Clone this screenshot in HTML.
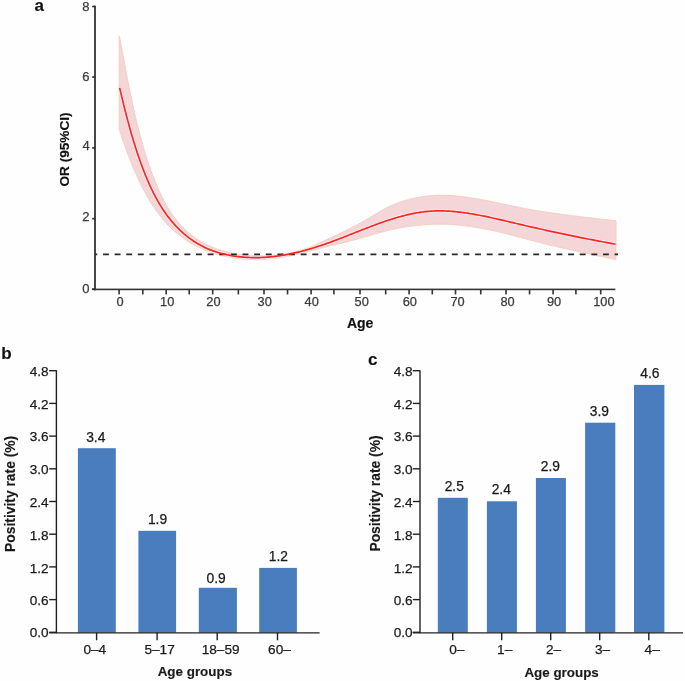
<!DOCTYPE html>
<html><head><meta charset="utf-8"><style>
html,body{margin:0;padding:0;background:#fefefe;width:685px;height:681px;overflow:hidden}
svg{display:block;will-change:transform}
</style></head><body>
<svg width="685" height="681" viewBox="0 0 685 681"><rect width="685" height="681" fill="#fefefe"/><polygon points="119.20,35.90 119.27,35.91 119.53,37.20 119.78,38.49 120.04,39.78 120.29,41.07 120.54,42.37 120.79,43.66 121.04,44.95 121.29,46.25 121.54,47.54 121.79,48.84 122.04,50.13 122.29,51.43 122.54,52.73 122.78,54.02 123.03,55.32 123.28,56.62 123.52,57.91 123.77,59.21 124.02,60.51 124.27,61.80 124.51,63.10 124.76,64.40 125.01,65.70 125.25,66.99 125.50,68.29 125.75,69.59 126.00,70.89 126.25,72.19 126.50,73.48 126.75,74.78 127.00,76.08 127.25,77.38 127.50,78.67 127.75,79.97 128.01,81.27 128.26,82.57 128.52,83.86 128.78,85.16 129.03,86.46 129.29,87.75 129.55,89.05 129.81,90.35 130.08,91.64 130.34,92.94 130.61,94.23 130.87,95.53 131.14,96.82 131.41,98.11 131.68,99.41 131.95,100.70 132.23,101.99 132.51,103.29 132.78,104.58 133.06,105.87 133.35,107.16 133.63,108.45 133.92,109.74 134.21,111.03 134.50,112.32 134.79,113.61 135.08,114.90 135.38,116.18 135.68,117.47 135.98,118.75 136.29,120.04 136.59,121.32 136.90,122.61 137.22,123.89 137.53,125.17 137.85,126.45 138.17,127.73 138.49,129.01 138.82,130.29 139.15,131.57 139.48,132.85 139.81,134.12 140.15,135.40 140.49,136.67 140.84,137.95 141.19,139.22 141.54,140.49 141.89,141.76 142.25,143.03 142.61,144.30 142.98,145.57 143.35,146.83 143.72,148.10 144.10,149.36 144.48,150.63 144.86,151.89 145.25,153.15 145.64,154.41 146.03,155.67 146.43,156.92 146.84,158.18 147.25,159.43 147.66,160.69 148.07,161.94 148.49,163.19 148.92,164.44 149.35,165.69 149.78,166.93 150.22,168.18 150.66,169.42 151.11,170.67 151.56,171.91 152.02,173.15 152.48,174.38 152.95,175.62 153.42,176.86 153.90,178.09 154.38,179.32 154.87,180.55 155.36,181.78 155.86,183.01 156.36,184.23 156.87,185.46 157.38,186.67 157.91,187.89 158.44,189.11 158.97,190.32 159.51,191.52 160.07,192.73 160.63,193.92 161.19,195.12 161.77,196.31 162.35,197.49 162.95,198.67 163.55,199.85 164.16,201.02 164.79,202.18 165.42,203.34 166.06,204.49 166.72,205.64 167.38,206.77 168.06,207.91 168.75,209.03 169.45,210.15 170.16,211.26 170.88,212.36 171.62,213.45 172.37,214.54 173.13,215.61 173.91,216.68 174.70,217.74 175.50,218.79 176.32,219.83 177.16,220.86 178.00,221.88 178.87,222.89 179.74,223.89 180.63,224.87 181.54,225.85 182.46,226.81 183.39,227.76 184.33,228.70 185.29,229.62 186.26,230.53 187.24,231.43 188.24,232.31 189.25,233.17 190.27,234.02 191.30,234.85 192.34,235.67 193.39,236.47 194.46,237.25 195.53,238.01 196.62,238.75 197.72,239.48 198.82,240.19 199.94,240.88 201.07,241.55 202.20,242.21 203.35,242.85 204.50,243.47 205.66,244.07 206.83,244.66 208.01,245.23 209.20,245.78 210.40,246.32 211.60,246.84 212.81,247.35 214.03,247.83 215.25,248.31 216.48,248.76 217.72,249.20 218.97,249.63 220.22,250.04 221.47,250.44 222.74,250.82 224.00,251.18 225.28,251.53 226.55,251.87 227.83,252.19 229.12,252.49 230.41,252.78 231.71,253.06 233.01,253.33 234.31,253.57 235.62,253.81 236.92,254.03 238.24,254.24 239.55,254.44 240.87,254.62 242.19,254.79 243.51,254.94 244.83,255.09 246.16,255.22 247.49,255.34 248.81,255.44 250.14,255.53 251.47,255.61 252.80,255.68 254.13,255.74 255.46,255.79 256.79,255.82 258.12,255.84 259.45,255.85 260.78,255.85 262.11,255.84 263.43,255.82 264.76,255.78 266.08,255.74 267.40,255.68 268.72,255.61 270.04,255.53 271.36,255.44 272.68,255.34 273.99,255.22 275.31,255.09 276.62,254.95 277.93,254.80 279.23,254.64 280.54,254.47 281.84,254.28 283.14,254.08 284.44,253.87 285.73,253.64 287.03,253.41 288.32,253.16 289.60,252.90 290.89,252.63 292.17,252.34 293.45,252.04 294.72,251.73 296.00,251.40 297.27,251.07 298.53,250.72 299.80,250.35 301.06,249.98 302.31,249.59 303.56,249.19 304.81,248.77 306.06,248.34 307.30,247.90 308.54,247.45 309.77,246.98 311.00,246.51 312.23,246.02 313.46,245.52 314.68,245.02 315.90,244.51 317.12,243.99 318.33,243.46 319.55,242.92 320.76,242.39 321.97,241.84 323.18,241.29 324.39,240.74 325.59,240.18 326.80,239.62 328.00,239.06 329.20,238.50 330.41,237.94 331.61,237.38 332.81,236.81 334.01,236.25 335.21,235.68 336.41,235.12 337.60,234.55 338.80,233.98 339.99,233.41 341.19,232.83 342.38,232.26 343.57,231.68 344.75,231.10 345.94,230.52 347.12,229.93 348.31,229.34 349.48,228.75 350.66,228.15 351.84,227.55 353.01,226.95 354.18,226.34 355.34,225.72 356.50,225.10 357.66,224.48 358.82,223.85 359.97,223.22 361.12,222.58 362.27,221.93 363.41,221.28 364.55,220.62 365.69,219.96 366.82,219.29 367.95,218.62 369.07,217.94 370.20,217.26 371.32,216.58 372.45,215.89 373.57,215.21 374.70,214.53 375.82,213.85 376.95,213.18 378.08,212.51 379.22,211.85 380.36,211.19 381.50,210.54 382.65,209.91 383.81,209.28 384.97,208.66 386.14,208.06 387.32,207.46 388.50,206.89 389.70,206.32 390.90,205.77 392.11,205.24 393.33,204.72 394.55,204.21 395.78,203.72 397.02,203.24 398.26,202.77 399.51,202.32 400.77,201.88 402.03,201.46 403.30,201.05 404.57,200.66 405.84,200.28 407.12,199.91 408.41,199.56 409.70,199.22 410.99,198.90 412.29,198.59 413.58,198.29 414.89,198.01 416.19,197.74 417.50,197.49 418.81,197.25 420.12,197.02 421.43,196.81 422.74,196.61 424.05,196.43 425.37,196.26 426.68,196.10 428.00,195.96 429.31,195.83 430.63,195.72 431.94,195.61 433.26,195.53 434.57,195.45 435.88,195.39 437.20,195.34 438.51,195.31 439.82,195.29 441.13,195.28 442.44,195.28 443.75,195.29 445.06,195.31 446.37,195.35 447.68,195.39 448.99,195.45 450.30,195.52 451.60,195.59 452.91,195.68 454.22,195.78 455.52,195.88 456.83,196.00 458.14,196.12 459.44,196.25 460.75,196.39 462.05,196.54 463.36,196.70 464.66,196.86 465.97,197.03 467.27,197.21 468.57,197.40 469.88,197.59 471.18,197.79 472.48,198.00 473.78,198.21 475.09,198.42 476.39,198.64 477.69,198.87 478.99,199.10 480.29,199.34 481.59,199.58 482.89,199.83 484.19,200.08 485.50,200.33 486.80,200.59 488.10,200.85 489.40,201.11 490.70,201.37 492.00,201.64 493.30,201.91 494.60,202.18 495.90,202.46 497.19,202.73 498.49,203.01 499.79,203.28 501.09,203.56 502.39,203.84 503.69,204.12 504.99,204.40 506.29,204.68 507.59,204.95 508.89,205.23 510.19,205.51 511.49,205.78 512.79,206.05 514.08,206.33 515.38,206.60 516.68,206.86 517.98,207.13 519.28,207.39 520.58,207.65 521.88,207.90 523.18,208.16 524.48,208.41 525.78,208.65 527.08,208.89 528.38,209.13 529.68,209.37 530.98,209.60 532.28,209.83 533.58,210.06 534.88,210.28 536.18,210.50 537.48,210.72 538.78,210.93 540.08,211.14 541.39,211.35 542.69,211.56 543.99,211.76 545.29,211.96 546.59,212.16 547.90,212.36 549.20,212.55 550.50,212.74 551.80,212.93 553.11,213.12 554.41,213.31 555.71,213.49 557.02,213.67 558.32,213.85 559.63,214.03 560.93,214.21 562.23,214.38 563.54,214.55 564.85,214.72 566.15,214.89 567.46,215.06 568.76,215.23 570.07,215.39 571.38,215.56 572.68,215.72 573.99,215.88 575.30,216.04 576.61,216.20 577.91,216.36 579.22,216.52 580.53,216.67 581.84,216.83 583.15,216.98 584.46,217.14 585.77,217.29 587.08,217.44 588.39,217.60 589.70,217.75 591.01,217.90 592.33,218.05 593.64,218.20 594.95,218.35 596.26,218.50 597.58,218.65 598.89,218.80 600.21,218.96 601.52,219.11 602.84,219.26 604.15,219.41 605.47,219.56 606.78,219.71 608.10,219.86 609.42,220.02 610.74,220.17 612.05,220.32 613.37,220.48 614.69,220.63 616.01,220.79 616.00,259.70 616.00,259.69 614.88,259.46 613.75,259.22 612.63,258.99 611.50,258.76 610.38,258.52 609.25,258.28 608.13,258.05 607.00,257.81 605.88,257.58 604.76,257.34 603.63,257.10 602.51,256.86 601.38,256.62 600.26,256.39 599.13,256.15 598.01,255.91 596.89,255.67 595.76,255.43 594.64,255.18 593.52,254.94 592.39,254.70 591.27,254.46 590.15,254.21 589.02,253.97 587.90,253.73 586.78,253.48 585.65,253.23 584.53,252.99 583.41,252.74 582.29,252.49 581.16,252.25 580.04,252.00 578.92,251.75 577.80,251.50 576.68,251.25 575.55,251.00 574.43,250.74 573.31,250.49 572.19,250.24 571.07,249.98 569.95,249.73 568.83,249.47 567.71,249.22 566.59,248.96 565.47,248.70 564.35,248.44 563.23,248.18 562.11,247.92 560.99,247.66 559.87,247.40 558.75,247.14 557.63,246.87 556.51,246.61 555.39,246.34 554.28,246.08 553.16,245.81 552.04,245.54 550.92,245.27 549.81,245.00 548.69,244.73 547.57,244.46 546.46,244.19 545.34,243.91 544.22,243.64 543.11,243.36 541.99,243.09 540.88,242.81 539.76,242.53 538.65,242.25 537.53,241.97 536.42,241.69 535.31,241.41 534.19,241.13 533.08,240.84 531.97,240.56 530.85,240.27 529.74,239.98 528.63,239.69 527.52,239.40 526.41,239.11 525.30,238.82 524.19,238.53 523.08,238.23 521.97,237.94 520.86,237.64 519.75,237.34 518.64,237.04 517.53,236.74 516.42,236.45 515.31,236.15 514.20,235.85 513.09,235.55 511.98,235.26 510.87,234.96 509.76,234.67 508.65,234.38 507.54,234.09 506.43,233.80 505.31,233.52 504.20,233.23 503.09,232.96 501.97,232.68 500.86,232.41 499.74,232.14 498.62,231.88 497.50,231.62 496.38,231.37 495.26,231.11 494.14,230.87 493.02,230.63 491.89,230.39 490.77,230.15 489.64,229.92 488.52,229.70 487.39,229.47 486.26,229.25 485.13,229.04 484.00,228.83 482.87,228.62 481.74,228.42 480.61,228.22 479.47,228.02 478.34,227.83 477.21,227.64 476.07,227.46 474.94,227.28 473.80,227.10 472.66,226.93 471.52,226.76 470.38,226.59 469.25,226.43 468.11,226.28 466.97,226.12 465.82,225.98 464.68,225.84 463.54,225.70 462.40,225.57 461.26,225.44 460.11,225.32 458.97,225.21 457.82,225.10 456.68,224.99 455.53,224.90 454.39,224.80 453.24,224.72 452.10,224.64 450.95,224.57 449.80,224.50 448.66,224.44 447.51,224.39 446.36,224.34 445.21,224.30 444.06,224.27 442.91,224.25 441.77,224.23 440.62,224.22 439.47,224.22 438.32,224.22 437.17,224.23 436.02,224.25 434.87,224.27 433.72,224.30 432.57,224.34 431.43,224.38 430.28,224.43 429.13,224.49 427.98,224.55 426.83,224.62 425.68,224.70 424.54,224.78 423.39,224.87 422.24,224.96 421.10,225.06 419.95,225.17 418.81,225.28 417.66,225.40 416.52,225.52 415.38,225.65 414.24,225.79 413.09,225.93 411.95,226.07 410.81,226.22 409.67,226.38 408.54,226.54 407.40,226.71 406.26,226.89 405.13,227.07 403.99,227.25 402.86,227.44 401.73,227.64 400.59,227.84 399.46,228.05 398.34,228.26 397.21,228.48 396.08,228.70 394.96,228.93 393.83,229.17 392.71,229.41 391.59,229.66 390.47,229.92 389.36,230.18 388.24,230.44 387.13,230.72 386.01,231.00 384.90,231.28 383.79,231.57 382.69,231.87 381.58,232.17 380.48,232.47 379.37,232.78 378.27,233.09 377.16,233.41 376.06,233.72 374.96,234.04 373.86,234.36 372.76,234.68 371.66,235.01 370.56,235.33 369.46,235.65 368.35,235.98 367.25,236.30 366.15,236.62 365.05,236.94 363.95,237.26 362.84,237.57 361.74,237.89 360.63,238.20 359.52,238.50 358.42,238.81 357.31,239.11 356.20,239.41 355.09,239.70 353.98,240.00 352.86,240.29 351.75,240.58 350.64,240.86 349.52,241.15 348.41,241.43 347.29,241.72 346.18,242.00 345.06,242.28 343.95,242.55 342.83,242.83 341.71,243.11 340.59,243.38 339.48,243.65 338.36,243.93 337.24,244.20 336.12,244.47 335.00,244.74 333.88,245.02 332.76,245.29 331.65,245.56 330.53,245.83 329.41,246.10 328.29,246.38 327.17,246.65 326.06,246.93 324.94,247.20 323.82,247.48 322.70,247.75 321.59,248.03 320.47,248.31 319.36,248.59 318.24,248.87 317.13,249.16 316.01,249.44 314.90,249.73 313.78,250.01 312.67,250.30 311.56,250.58 310.44,250.87 309.33,251.15 308.22,251.43 307.10,251.72 305.99,252.00 304.88,252.28 303.76,252.56 302.65,252.83 301.53,253.11 300.42,253.38 299.31,253.65 298.19,253.91 297.07,254.18 295.96,254.44 294.84,254.69 293.72,254.95 292.61,255.19 291.49,255.44 290.37,255.68 289.25,255.91 288.13,256.14 287.01,256.37 285.88,256.59 284.76,256.80 283.63,257.01 282.51,257.21 281.38,257.40 280.25,257.59 279.12,257.77 277.99,257.95 276.86,258.12 275.73,258.28 274.59,258.43 273.46,258.57 272.32,258.71 271.18,258.83 270.04,258.95 268.90,259.06 267.75,259.16 266.61,259.25 265.46,259.34 264.31,259.41 263.16,259.47 262.01,259.53 260.86,259.58 259.71,259.61 258.56,259.64 257.40,259.66 256.25,259.67 255.10,259.67 253.94,259.66 252.79,259.64 251.63,259.61 250.48,259.58 249.32,259.53 248.17,259.48 247.02,259.41 245.86,259.34 244.71,259.25 243.56,259.16 242.41,259.06 241.26,258.95 240.11,258.83 238.96,258.70 237.82,258.56 236.67,258.41 235.53,258.25 234.38,258.08 233.24,257.90 232.11,257.71 230.97,257.51 229.83,257.31 228.70,257.09 227.57,256.86 226.44,256.63 225.32,256.38 224.19,256.13 223.07,255.86 221.95,255.58 220.84,255.30 219.73,255.00 218.62,254.70 217.51,254.38 216.41,254.06 215.31,253.72 214.22,253.38 213.12,253.03 212.04,252.66 210.95,252.29 209.87,251.90 208.79,251.51 207.72,251.10 206.65,250.69 205.59,250.26 204.53,249.83 203.48,249.38 202.43,248.93 201.38,248.46 200.34,247.99 199.31,247.50 198.28,247.00 197.25,246.50 196.23,245.98 195.22,245.45 194.21,244.91 193.20,244.37 192.21,243.81 191.22,243.24 190.23,242.66 189.25,242.07 188.28,241.47 187.31,240.86 186.35,240.24 185.40,239.61 184.45,238.97 183.51,238.31 182.57,237.65 181.65,236.98 180.73,236.29 179.81,235.60 178.91,234.89 178.01,234.18 177.12,233.45 176.24,232.71 175.36,231.97 174.49,231.21 173.63,230.45 172.78,229.68 171.94,228.89 171.10,228.10 170.27,227.30 169.45,226.49 168.64,225.68 167.84,224.85 167.04,224.02 166.26,223.17 165.48,222.32 164.71,221.47 163.95,220.60 163.20,219.73 162.46,218.85 161.73,217.96 161.00,217.06 160.29,216.16 159.58,215.26 158.88,214.34 158.19,213.42 157.51,212.49 156.83,211.56 156.16,210.62 155.50,209.68 154.85,208.73 154.20,207.78 153.57,206.82 152.93,205.86 152.31,204.89 151.69,203.92 151.08,202.94 150.48,201.96 149.88,200.98 149.28,199.99 148.70,199.00 148.12,198.00 147.54,197.01 146.97,196.00 146.41,195.00 145.85,194.00 145.29,192.99 144.74,191.98 144.20,190.96 143.66,189.95 143.13,188.93 142.60,187.91 142.07,186.89 141.55,185.87 141.04,184.84 140.52,183.81 140.02,182.78 139.52,181.75 139.02,180.71 138.53,179.68 138.04,178.64 137.55,177.60 137.07,176.55 136.60,175.51 136.12,174.46 135.65,173.42 135.19,172.37 134.73,171.32 134.27,170.26 133.82,169.21 133.37,168.15 132.92,167.09 132.48,166.03 132.04,164.97 131.61,163.91 131.18,162.85 130.75,161.78 130.32,160.71 129.90,159.65 129.48,158.58 129.07,157.50 128.66,156.43 128.25,155.36 127.84,154.28 127.44,153.21 127.03,152.13 126.64,151.05 126.24,149.97 125.85,148.89 125.46,147.81 125.07,146.73 124.68,145.65 124.30,144.56 123.92,143.48 123.54,142.39 123.17,141.31 122.79,140.22 122.42,139.13 122.05,138.04 121.68,136.95 121.32,135.86 120.95,134.77 120.59,133.68 120.23,132.59 119.87,131.49 119.52,130.40 119.16,129.31 119.20,129.30" fill="#f4d5d8" stroke="#f2cdbb" stroke-width="0.9" stroke-linejoin="miter"/><polyline points="119.62,87.83 119.91,89.04 120.20,90.25 120.48,91.45 120.77,92.65 121.06,93.85 121.34,95.05 121.63,96.25 121.92,97.45 122.21,98.65 122.50,99.84 122.79,101.03 123.08,102.23 123.38,103.42 123.67,104.61 123.96,105.80 124.26,106.98 124.56,108.17 124.85,109.35 125.15,110.54 125.45,111.72 125.75,112.90 126.06,114.08 126.36,115.26 126.67,116.44 126.97,117.62 127.28,118.80 127.59,119.97 127.91,121.15 128.22,122.32 128.54,123.49 128.85,124.67 129.17,125.84 129.50,127.01 129.82,128.18 130.15,129.35 130.48,130.51 130.81,131.68 131.14,132.85 131.47,134.01 131.81,135.18 132.15,136.34 132.49,137.51 132.84,138.67 133.19,139.83 133.54,140.99 133.89,142.15 134.25,143.31 134.61,144.47 134.97,145.63 135.34,146.79 135.70,147.95 136.08,149.10 136.45,150.26 136.83,151.42 137.21,152.57 137.60,153.73 137.98,154.88 138.38,156.04 138.77,157.19 139.17,158.34 139.57,159.50 139.98,160.65 140.39,161.80 140.80,162.96 141.22,164.11 141.64,165.26 142.07,166.41 142.50,167.56 142.93,168.71 143.37,169.86 143.81,171.01 144.26,172.16 144.71,173.30 145.17,174.45 145.63,175.59 146.10,176.73 146.57,177.87 147.05,179.01 147.53,180.15 148.02,181.28 148.51,182.41 149.01,183.54 149.52,184.66 150.03,185.79 150.54,186.91 151.07,188.02 151.60,189.14 152.13,190.25 152.67,191.35 153.22,192.45 153.77,193.55 154.34,194.65 154.90,195.74 155.48,196.82 156.06,197.90 156.65,198.98 157.24,200.05 157.85,201.11 158.46,202.18 159.08,203.23 159.70,204.28 160.34,205.33 160.98,206.37 161.63,207.40 162.28,208.42 162.95,209.45 163.62,210.46 164.30,211.47 165.00,212.47 165.69,213.46 166.40,214.45 167.12,215.43 167.84,216.40 168.58,217.37 169.32,218.33 170.07,219.28 170.84,220.22 171.61,221.15 172.39,222.08 173.18,223.00 173.98,223.91 174.79,224.81 175.61,225.70 176.44,226.58 177.28,227.45 178.13,228.32 178.99,229.17 179.86,230.02 180.74,230.85 181.63,231.68 182.54,232.50 183.45,233.30 184.37,234.10 185.31,234.88 186.25,235.65 187.21,236.42 188.17,237.17 189.14,237.91 190.13,238.63 191.12,239.35 192.12,240.05 193.13,240.74 194.15,241.42 195.18,242.08 196.22,242.73 197.26,243.37 198.31,243.99 199.38,244.60 200.44,245.19 201.52,245.77 202.61,246.33 203.70,246.88 204.80,247.42 205.90,247.94 207.02,248.44 208.14,248.93 209.27,249.40 210.40,249.85 211.54,250.29 212.68,250.71 213.83,251.12 214.99,251.52 216.15,251.90 217.32,252.26 218.49,252.61 219.66,252.95 220.84,253.28 222.02,253.59 223.20,253.89 224.39,254.18 225.58,254.45 226.77,254.71 227.97,254.97 229.16,255.20 230.36,255.43 231.56,255.65 232.77,255.85 233.98,256.04 235.18,256.22 236.39,256.39 237.61,256.54 238.82,256.69 240.03,256.82 241.25,256.95 242.47,257.06 243.69,257.16 244.91,257.25 246.13,257.33 247.35,257.40 248.57,257.46 249.80,257.51 251.02,257.55 252.24,257.58 253.47,257.60 254.69,257.60 255.92,257.60 257.14,257.59 258.37,257.57 259.59,257.54 260.82,257.50 262.04,257.45 263.26,257.39 264.48,257.32 265.71,257.24 266.93,257.16 268.15,257.06 269.36,256.96 270.58,256.84 271.80,256.72 273.01,256.59 274.22,256.45 275.44,256.31 276.65,256.15 277.86,255.99 279.06,255.82 280.27,255.64 281.48,255.45 282.68,255.26 283.88,255.06 285.08,254.85 286.28,254.63 287.48,254.41 288.68,254.18 289.87,253.94 291.07,253.69 292.26,253.44 293.45,253.18 294.64,252.92 295.83,252.65 297.02,252.37 298.21,252.09 299.39,251.80 300.58,251.50 301.76,251.20 302.94,250.89 304.12,250.57 305.30,250.26 306.48,249.93 307.65,249.60 308.83,249.26 310.00,248.92 311.17,248.58 312.34,248.23 313.51,247.87 314.68,247.51 315.84,247.14 317.01,246.77 318.17,246.40 319.33,246.02 320.49,245.64 321.65,245.25 322.81,244.86 323.96,244.46 325.12,244.07 326.27,243.66 327.42,243.26 328.57,242.85 329.72,242.43 330.87,242.02 332.02,241.60 333.16,241.17 334.31,240.75 335.45,240.32 336.59,239.89 337.73,239.46 338.87,239.02 340.01,238.58 341.15,238.14 342.28,237.70 343.42,237.26 344.56,236.82 345.69,236.37 346.82,235.92 347.96,235.48 349.09,235.03 350.23,234.58 351.36,234.13 352.49,233.68 353.63,233.23 354.76,232.78 355.89,232.33 357.03,231.88 358.16,231.43 359.30,230.98 360.43,230.53 361.57,230.08 362.70,229.63 363.84,229.19 364.97,228.74 366.11,228.30 367.25,227.86 368.39,227.42 369.53,226.98 370.67,226.55 371.81,226.11 372.95,225.68 374.10,225.25 375.24,224.83 376.39,224.41 377.54,223.99 378.69,223.57 379.84,223.15 380.99,222.74 382.15,222.34 383.30,221.93 384.46,221.54 385.62,221.14 386.78,220.75 387.95,220.36 389.11,219.98 390.28,219.60 391.45,219.23 392.62,218.87 393.80,218.50 394.97,218.15 396.15,217.80 397.33,217.45 398.51,217.12 399.69,216.79 400.88,216.46 402.06,216.14 403.25,215.83 404.44,215.53 405.63,215.24 406.82,214.95 408.01,214.67 409.21,214.40 410.40,214.13 411.60,213.88 412.80,213.63 414.00,213.40 415.20,213.17 416.40,212.95 417.60,212.74 418.81,212.55 420.01,212.36 421.22,212.18 422.42,212.01 423.63,211.86 424.84,211.71 426.05,211.58 427.26,211.45 428.47,211.34 429.68,211.24 430.90,211.16 432.11,211.08 433.32,211.02 434.54,210.97 435.75,210.93 436.97,210.90 438.18,210.88 439.40,210.87 440.61,210.87 441.83,210.89 443.05,210.91 444.26,210.94 445.48,210.99 446.70,211.04 447.92,211.10 449.13,211.17 450.35,211.25 451.57,211.34 452.78,211.43 454.00,211.54 455.22,211.65 456.43,211.77 457.65,211.90 458.86,212.03 460.08,212.18 461.29,212.32 462.51,212.48 463.72,212.64 464.93,212.81 466.15,212.99 467.36,213.17 468.57,213.35 469.78,213.55 470.99,213.74 472.20,213.94 473.40,214.15 474.61,214.36 475.82,214.58 477.02,214.80 478.22,215.02 479.43,215.25 480.63,215.48 481.83,215.72 483.03,215.96 484.22,216.20 485.42,216.45 486.62,216.69 487.81,216.95 489.01,217.20 490.20,217.46 491.40,217.72 492.59,217.98 493.78,218.24 494.97,218.51 496.16,218.78 497.36,219.05 498.55,219.32 499.74,219.59 500.92,219.87 502.11,220.14 503.30,220.42 504.49,220.70 505.68,220.98 506.87,221.26 508.05,221.54 509.24,221.82 510.43,222.10 511.62,222.38 512.80,222.67 513.99,222.95 515.18,223.23 516.37,223.51 517.55,223.79 518.74,224.07 519.93,224.35 521.12,224.63 522.31,224.91 523.50,225.19 524.69,225.46 525.88,225.74 527.06,226.01 528.25,226.29 529.44,226.56 530.64,226.83 531.83,227.11 533.02,227.38 534.21,227.65 535.40,227.92 536.59,228.18 537.78,228.45 538.97,228.72 540.17,228.98 541.36,229.25 542.55,229.51 543.74,229.78 544.94,230.04 546.13,230.30 547.32,230.56 548.52,230.82 549.71,231.08 550.90,231.34 552.10,231.60 553.29,231.86 554.49,232.12 555.68,232.37 556.88,232.63 558.07,232.88 559.27,233.13 560.46,233.39 561.66,233.64 562.85,233.89 564.05,234.14 565.25,234.39 566.44,234.64 567.64,234.89 568.84,235.14 570.03,235.38 571.23,235.63 572.43,235.87 573.62,236.12 574.82,236.36 576.02,236.60 577.22,236.85 578.41,237.09 579.61,237.33 580.81,237.57 582.01,237.81 583.20,238.05 584.40,238.29 585.60,238.52 586.80,238.76 588.00,238.99 589.20,239.23 590.40,239.46 591.60,239.70 592.79,239.93 593.99,240.16 595.19,240.39 596.39,240.62 597.59,240.85 598.79,241.08 599.99,241.31 601.19,241.54 602.39,241.77 603.59,241.99 604.79,242.22 605.99,242.45 607.19,242.67 608.39,242.89 609.59,243.12 610.79,243.34 611.99,243.56 613.19,243.78 614.39,244.00 615.59,244.22" fill="none" stroke="#fff" stroke-opacity="0.55" stroke-width="3.6" stroke-linejoin="round"/><line x1="95" y1="254.35" x2="618" y2="254.35" stroke="#282828" stroke-width="1.8" stroke-dasharray="5.9 5.728" stroke-dashoffset="3.63"/><polyline points="119.62,87.83 119.91,89.04 120.20,90.25 120.48,91.45 120.77,92.65 121.06,93.85 121.34,95.05 121.63,96.25 121.92,97.45 122.21,98.65 122.50,99.84 122.79,101.03 123.08,102.23 123.38,103.42 123.67,104.61 123.96,105.80 124.26,106.98 124.56,108.17 124.85,109.35 125.15,110.54 125.45,111.72 125.75,112.90 126.06,114.08 126.36,115.26 126.67,116.44 126.97,117.62 127.28,118.80 127.59,119.97 127.91,121.15 128.22,122.32 128.54,123.49 128.85,124.67 129.17,125.84 129.50,127.01 129.82,128.18 130.15,129.35 130.48,130.51 130.81,131.68 131.14,132.85 131.47,134.01 131.81,135.18 132.15,136.34 132.49,137.51 132.84,138.67 133.19,139.83 133.54,140.99 133.89,142.15 134.25,143.31 134.61,144.47 134.97,145.63 135.34,146.79 135.70,147.95 136.08,149.10 136.45,150.26 136.83,151.42 137.21,152.57 137.60,153.73 137.98,154.88 138.38,156.04 138.77,157.19 139.17,158.34 139.57,159.50 139.98,160.65 140.39,161.80 140.80,162.96 141.22,164.11 141.64,165.26 142.07,166.41 142.50,167.56 142.93,168.71 143.37,169.86 143.81,171.01 144.26,172.16 144.71,173.30 145.17,174.45 145.63,175.59 146.10,176.73 146.57,177.87 147.05,179.01 147.53,180.15 148.02,181.28 148.51,182.41 149.01,183.54 149.52,184.66 150.03,185.79 150.54,186.91 151.07,188.02 151.60,189.14 152.13,190.25 152.67,191.35 153.22,192.45 153.77,193.55 154.34,194.65 154.90,195.74 155.48,196.82 156.06,197.90 156.65,198.98 157.24,200.05 157.85,201.11 158.46,202.18 159.08,203.23 159.70,204.28 160.34,205.33 160.98,206.37 161.63,207.40 162.28,208.42 162.95,209.45 163.62,210.46 164.30,211.47 165.00,212.47 165.69,213.46 166.40,214.45 167.12,215.43 167.84,216.40 168.58,217.37 169.32,218.33 170.07,219.28 170.84,220.22 171.61,221.15 172.39,222.08 173.18,223.00 173.98,223.91 174.79,224.81 175.61,225.70 176.44,226.58 177.28,227.45 178.13,228.32 178.99,229.17 179.86,230.02 180.74,230.85 181.63,231.68 182.54,232.50 183.45,233.30 184.37,234.10 185.31,234.88 186.25,235.65 187.21,236.42 188.17,237.17 189.14,237.91 190.13,238.63 191.12,239.35 192.12,240.05 193.13,240.74 194.15,241.42 195.18,242.08 196.22,242.73 197.26,243.37 198.31,243.99 199.38,244.60 200.44,245.19 201.52,245.77 202.61,246.33 203.70,246.88 204.80,247.42 205.90,247.94 207.02,248.44 208.14,248.93 209.27,249.40 210.40,249.85 211.54,250.29 212.68,250.71 213.83,251.12 214.99,251.52 216.15,251.90 217.32,252.26 218.49,252.61 219.66,252.95 220.84,253.28 222.02,253.59 223.20,253.89 224.39,254.18 225.58,254.45 226.77,254.71 227.97,254.97 229.16,255.20 230.36,255.43 231.56,255.65 232.77,255.85 233.98,256.04 235.18,256.22 236.39,256.39 237.61,256.54 238.82,256.69 240.03,256.82 241.25,256.95 242.47,257.06 243.69,257.16 244.91,257.25 246.13,257.33 247.35,257.40 248.57,257.46 249.80,257.51 251.02,257.55 252.24,257.58 253.47,257.60 254.69,257.60 255.92,257.60 257.14,257.59 258.37,257.57 259.59,257.54 260.82,257.50 262.04,257.45 263.26,257.39 264.48,257.32 265.71,257.24 266.93,257.16 268.15,257.06 269.36,256.96 270.58,256.84 271.80,256.72 273.01,256.59 274.22,256.45 275.44,256.31 276.65,256.15 277.86,255.99 279.06,255.82 280.27,255.64 281.48,255.45 282.68,255.26 283.88,255.06 285.08,254.85 286.28,254.63 287.48,254.41 288.68,254.18 289.87,253.94 291.07,253.69 292.26,253.44 293.45,253.18 294.64,252.92 295.83,252.65 297.02,252.37 298.21,252.09 299.39,251.80 300.58,251.50 301.76,251.20 302.94,250.89 304.12,250.57 305.30,250.26 306.48,249.93 307.65,249.60 308.83,249.26 310.00,248.92 311.17,248.58 312.34,248.23 313.51,247.87 314.68,247.51 315.84,247.14 317.01,246.77 318.17,246.40 319.33,246.02 320.49,245.64 321.65,245.25 322.81,244.86 323.96,244.46 325.12,244.07 326.27,243.66 327.42,243.26 328.57,242.85 329.72,242.43 330.87,242.02 332.02,241.60 333.16,241.17 334.31,240.75 335.45,240.32 336.59,239.89 337.73,239.46 338.87,239.02 340.01,238.58 341.15,238.14 342.28,237.70 343.42,237.26 344.56,236.82 345.69,236.37 346.82,235.92 347.96,235.48 349.09,235.03 350.23,234.58 351.36,234.13 352.49,233.68 353.63,233.23 354.76,232.78 355.89,232.33 357.03,231.88 358.16,231.43 359.30,230.98 360.43,230.53 361.57,230.08 362.70,229.63 363.84,229.19 364.97,228.74 366.11,228.30 367.25,227.86 368.39,227.42 369.53,226.98 370.67,226.55 371.81,226.11 372.95,225.68 374.10,225.25 375.24,224.83 376.39,224.41 377.54,223.99 378.69,223.57 379.84,223.15 380.99,222.74 382.15,222.34 383.30,221.93 384.46,221.54 385.62,221.14 386.78,220.75 387.95,220.36 389.11,219.98 390.28,219.60 391.45,219.23 392.62,218.87 393.80,218.50 394.97,218.15 396.15,217.80 397.33,217.45 398.51,217.12 399.69,216.79 400.88,216.46 402.06,216.14 403.25,215.83 404.44,215.53 405.63,215.24 406.82,214.95 408.01,214.67 409.21,214.40 410.40,214.13 411.60,213.88 412.80,213.63 414.00,213.40 415.20,213.17 416.40,212.95 417.60,212.74 418.81,212.55 420.01,212.36 421.22,212.18 422.42,212.01 423.63,211.86 424.84,211.71 426.05,211.58 427.26,211.45 428.47,211.34 429.68,211.24 430.90,211.16 432.11,211.08 433.32,211.02 434.54,210.97 435.75,210.93 436.97,210.90 438.18,210.88 439.40,210.87 440.61,210.87 441.83,210.89 443.05,210.91 444.26,210.94 445.48,210.99 446.70,211.04 447.92,211.10 449.13,211.17 450.35,211.25 451.57,211.34 452.78,211.43 454.00,211.54 455.22,211.65 456.43,211.77 457.65,211.90 458.86,212.03 460.08,212.18 461.29,212.32 462.51,212.48 463.72,212.64 464.93,212.81 466.15,212.99 467.36,213.17 468.57,213.35 469.78,213.55 470.99,213.74 472.20,213.94 473.40,214.15 474.61,214.36 475.82,214.58 477.02,214.80 478.22,215.02 479.43,215.25 480.63,215.48 481.83,215.72 483.03,215.96 484.22,216.20 485.42,216.45 486.62,216.69 487.81,216.95 489.01,217.20 490.20,217.46 491.40,217.72 492.59,217.98 493.78,218.24 494.97,218.51 496.16,218.78 497.36,219.05 498.55,219.32 499.74,219.59 500.92,219.87 502.11,220.14 503.30,220.42 504.49,220.70 505.68,220.98 506.87,221.26 508.05,221.54 509.24,221.82 510.43,222.10 511.62,222.38 512.80,222.67 513.99,222.95 515.18,223.23 516.37,223.51 517.55,223.79 518.74,224.07 519.93,224.35 521.12,224.63 522.31,224.91 523.50,225.19 524.69,225.46 525.88,225.74 527.06,226.01 528.25,226.29 529.44,226.56 530.64,226.83 531.83,227.11 533.02,227.38 534.21,227.65 535.40,227.92 536.59,228.18 537.78,228.45 538.97,228.72 540.17,228.98 541.36,229.25 542.55,229.51 543.74,229.78 544.94,230.04 546.13,230.30 547.32,230.56 548.52,230.82 549.71,231.08 550.90,231.34 552.10,231.60 553.29,231.86 554.49,232.12 555.68,232.37 556.88,232.63 558.07,232.88 559.27,233.13 560.46,233.39 561.66,233.64 562.85,233.89 564.05,234.14 565.25,234.39 566.44,234.64 567.64,234.89 568.84,235.14 570.03,235.38 571.23,235.63 572.43,235.87 573.62,236.12 574.82,236.36 576.02,236.60 577.22,236.85 578.41,237.09 579.61,237.33 580.81,237.57 582.01,237.81 583.20,238.05 584.40,238.29 585.60,238.52 586.80,238.76 588.00,238.99 589.20,239.23 590.40,239.46 591.60,239.70 592.79,239.93 593.99,240.16 595.19,240.39 596.39,240.62 597.59,240.85 598.79,241.08 599.99,241.31 601.19,241.54 602.39,241.77 603.59,241.99 604.79,242.22 605.99,242.45 607.19,242.67 608.39,242.89 609.59,243.12 610.79,243.34 611.99,243.56 613.19,243.78 614.39,244.00 615.59,244.22" fill="none" stroke="#fa2824" stroke-width="1.7" stroke-linejoin="round"/><rect x="94.1" y="5.7" width="1.8" height="284.6" fill="#333"/><rect x="92" y="288.6" width="523.4" height="1.6" fill="#333"/><rect x="92.2" y="5.65" width="3" height="1.7" fill="#333"/><rect x="92.2" y="76.15" width="3" height="1.7" fill="#333"/><rect x="92.2" y="147.05" width="3" height="1.7" fill="#333"/><rect x="92.2" y="217.85" width="3" height="1.7" fill="#333"/><rect x="92.2" y="288.25" width="3" height="1.7" fill="#333"/><rect x="118.30" y="289" width="1.6" height="5.4" fill="#333"/><rect x="142.00" y="289" width="1.6" height="5.4" fill="#333"/><rect x="165.40" y="289" width="1.6" height="5.4" fill="#333"/><rect x="188.40" y="289" width="1.6" height="5.4" fill="#333"/><rect x="211.90" y="289" width="1.6" height="5.4" fill="#333"/><rect x="237.55" y="289" width="1.6" height="5.4" fill="#333"/><rect x="263.20" y="289" width="1.6" height="5.4" fill="#333"/><rect x="286.75" y="289" width="1.6" height="5.4" fill="#333"/><rect x="310.30" y="289" width="1.6" height="5.4" fill="#333"/><rect x="333.10" y="289" width="1.6" height="5.4" fill="#333"/><rect x="359.20" y="289" width="1.6" height="5.4" fill="#333"/><rect x="384.90" y="289" width="1.6" height="5.4" fill="#333"/><rect x="408.30" y="289" width="1.6" height="5.4" fill="#333"/><rect x="431.50" y="289" width="1.6" height="5.4" fill="#333"/><rect x="454.70" y="289" width="1.6" height="5.4" fill="#333"/><rect x="479.95" y="289" width="1.6" height="5.4" fill="#333"/><rect x="505.20" y="289" width="1.6" height="5.4" fill="#333"/><rect x="528.75" y="289" width="1.6" height="5.4" fill="#333"/><rect x="552.30" y="289" width="1.6" height="5.4" fill="#333"/><rect x="575.10" y="289" width="1.6" height="5.4" fill="#333"/><rect x="599.90" y="289" width="1.6" height="5.4" fill="#333"/><rect x="77.90" y="448.20" width="37.90" height="184.40" fill="#4a7dbd"/><rect x="138.40" y="530.80" width="37.70" height="101.80" fill="#4a7dbd"/><rect x="198.80" y="587.80" width="38.10" height="44.80" fill="#4a7dbd"/><rect x="259.20" y="567.90" width="37.70" height="64.70" fill="#4a7dbd"/><line x1="56.4" y1="370.3" x2="56.4" y2="633.3" stroke="#222" stroke-width="1.4"/><line x1="49.199999999999996" y1="632.85" x2="319.6" y2="632.85" stroke="#222" stroke-width="1.4"/><line x1="49.199999999999996" y1="632.30" x2="56.4" y2="632.30" stroke="#222" stroke-width="1.4"/><line x1="49.199999999999996" y1="599.60" x2="56.4" y2="599.60" stroke="#222" stroke-width="1.4"/><line x1="49.199999999999996" y1="566.90" x2="56.4" y2="566.90" stroke="#222" stroke-width="1.4"/><line x1="49.199999999999996" y1="534.20" x2="56.4" y2="534.20" stroke="#222" stroke-width="1.4"/><line x1="49.199999999999996" y1="501.50" x2="56.4" y2="501.50" stroke="#222" stroke-width="1.4"/><line x1="49.199999999999996" y1="468.80" x2="56.4" y2="468.80" stroke="#222" stroke-width="1.4"/><line x1="49.199999999999996" y1="436.10" x2="56.4" y2="436.10" stroke="#222" stroke-width="1.4"/><line x1="49.199999999999996" y1="403.40" x2="56.4" y2="403.40" stroke="#222" stroke-width="1.4"/><line x1="49.199999999999996" y1="370.70" x2="56.4" y2="370.70" stroke="#222" stroke-width="1.4"/><line x1="96.60" y1="632.6" x2="96.60" y2="640.3" stroke="#222" stroke-width="1.4"/><line x1="157.10" y1="632.6" x2="157.10" y2="640.3" stroke="#222" stroke-width="1.4"/><line x1="217.20" y1="632.6" x2="217.20" y2="640.3" stroke="#222" stroke-width="1.4"/><line x1="277.50" y1="632.6" x2="277.50" y2="640.3" stroke="#222" stroke-width="1.4"/><rect x="437.80" y="497.80" width="30.00" height="134.80" fill="#4a7dbd"/><rect x="486.90" y="501.30" width="30.00" height="131.30" fill="#4a7dbd"/><rect x="535.90" y="478.00" width="30.00" height="154.60" fill="#4a7dbd"/><rect x="585.10" y="422.70" width="30.20" height="209.90" fill="#4a7dbd"/><rect x="634.00" y="384.90" width="30.40" height="247.70" fill="#4a7dbd"/><line x1="420.0" y1="370.3" x2="420.0" y2="633.3" stroke="#222" stroke-width="1.4"/><line x1="412.8" y1="632.85" x2="683.0" y2="632.85" stroke="#222" stroke-width="1.4"/><line x1="412.8" y1="632.30" x2="420.0" y2="632.30" stroke="#222" stroke-width="1.4"/><line x1="412.8" y1="599.60" x2="420.0" y2="599.60" stroke="#222" stroke-width="1.4"/><line x1="412.8" y1="566.90" x2="420.0" y2="566.90" stroke="#222" stroke-width="1.4"/><line x1="412.8" y1="534.20" x2="420.0" y2="534.20" stroke="#222" stroke-width="1.4"/><line x1="412.8" y1="501.50" x2="420.0" y2="501.50" stroke="#222" stroke-width="1.4"/><line x1="412.8" y1="468.80" x2="420.0" y2="468.80" stroke="#222" stroke-width="1.4"/><line x1="412.8" y1="436.10" x2="420.0" y2="436.10" stroke="#222" stroke-width="1.4"/><line x1="412.8" y1="403.40" x2="420.0" y2="403.40" stroke="#222" stroke-width="1.4"/><line x1="412.8" y1="370.70" x2="420.0" y2="370.70" stroke="#222" stroke-width="1.4"/><line x1="452.70" y1="632.6" x2="452.70" y2="640.3" stroke="#222" stroke-width="1.4"/><line x1="501.70" y1="632.6" x2="501.70" y2="640.3" stroke="#222" stroke-width="1.4"/><line x1="550.70" y1="632.6" x2="550.70" y2="640.3" stroke="#222" stroke-width="1.4"/><line x1="599.70" y1="632.6" x2="599.70" y2="640.3" stroke="#222" stroke-width="1.4"/><line x1="648.80" y1="632.6" x2="648.80" y2="640.3" stroke="#222" stroke-width="1.4"/><text x="39.33" y="11.20" text-anchor="middle" font-size="17" font-weight="bold" stroke="#111" stroke-width="0.15" font-family="Liberation Sans, sans-serif" fill="#111">a</text><text x="85.95" y="10.75" text-anchor="middle" font-size="13" stroke="#3a3a3a" stroke-width="0.25" font-family="Liberation Sans, sans-serif" fill="#3a3a3a">8</text><text x="85.93" y="80.69" text-anchor="middle" font-size="13" stroke="#3a3a3a" stroke-width="0.25" font-family="Liberation Sans, sans-serif" fill="#3a3a3a">6</text><text x="86.03" y="150.48" text-anchor="middle" font-size="13" stroke="#3a3a3a" stroke-width="0.25" font-family="Liberation Sans, sans-serif" fill="#3a3a3a">4</text><text x="85.81" y="221.30" text-anchor="middle" font-size="13" stroke="#3a3a3a" stroke-width="0.25" font-family="Liberation Sans, sans-serif" fill="#3a3a3a">2</text><text x="85.81" y="292.86" text-anchor="middle" font-size="13" stroke="#3a3a3a" stroke-width="0.25" font-family="Liberation Sans, sans-serif" fill="#3a3a3a">0</text><text x="120.08" y="306.40" text-anchor="middle" font-size="12.8" stroke="#3a3a3a" stroke-width="0.25" font-family="Liberation Sans, sans-serif" fill="#3a3a3a">0</text><text x="167.22" y="306.40" text-anchor="middle" font-size="12.8" stroke="#3a3a3a" stroke-width="0.25" font-family="Liberation Sans, sans-serif" fill="#3a3a3a">10</text><text x="213.47" y="306.40" text-anchor="middle" font-size="12.8" stroke="#3a3a3a" stroke-width="0.25" font-family="Liberation Sans, sans-serif" fill="#3a3a3a">20</text><text x="264.65" y="306.40" text-anchor="middle" font-size="12.8" stroke="#3a3a3a" stroke-width="0.25" font-family="Liberation Sans, sans-serif" fill="#3a3a3a">30</text><text x="311.72" y="306.40" text-anchor="middle" font-size="12.8" stroke="#3a3a3a" stroke-width="0.25" font-family="Liberation Sans, sans-serif" fill="#3a3a3a">40</text><text x="361.74" y="306.40" text-anchor="middle" font-size="12.8" stroke="#3a3a3a" stroke-width="0.25" font-family="Liberation Sans, sans-serif" fill="#3a3a3a">50</text><text x="409.75" y="306.40" text-anchor="middle" font-size="12.8" stroke="#3a3a3a" stroke-width="0.25" font-family="Liberation Sans, sans-serif" fill="#3a3a3a">60</text><text x="457.51" y="306.40" text-anchor="middle" font-size="12.8" stroke="#3a3a3a" stroke-width="0.25" font-family="Liberation Sans, sans-serif" fill="#3a3a3a">70</text><text x="507.63" y="306.40" text-anchor="middle" font-size="12.8" stroke="#3a3a3a" stroke-width="0.25" font-family="Liberation Sans, sans-serif" fill="#3a3a3a">80</text><text x="554.00" y="306.40" text-anchor="middle" font-size="12.8" stroke="#3a3a3a" stroke-width="0.25" font-family="Liberation Sans, sans-serif" fill="#3a3a3a">90</text><text x="603.86" y="306.40" text-anchor="middle" font-size="12.8" stroke="#3a3a3a" stroke-width="0.25" font-family="Liberation Sans, sans-serif" fill="#3a3a3a">100</text><text x="360.13" y="327.60" text-anchor="middle" font-size="14" font-weight="bold" stroke="#111" stroke-width="0.15" font-family="Liberation Sans, sans-serif" fill="#111">Age</text><text transform="translate(69.40,149.45) rotate(-90)" text-anchor="middle" font-size="13.6" font-weight="bold" stroke="#111" stroke-width="0.15" font-family="Liberation Sans, sans-serif" fill="#111">OR (95%CI)</text><text x="6.50" y="358.60" text-anchor="middle" font-size="17" font-weight="bold" stroke="#111" stroke-width="0.15" font-family="Liberation Sans, sans-serif" fill="#111">b</text><text x="95.73" y="441.63" text-anchor="middle" font-size="13.8" stroke="#1a1a1a" stroke-width="0.25" font-family="Liberation Sans, sans-serif" fill="#1a1a1a">3.4</text><text x="157.51" y="523.62" text-anchor="middle" font-size="13.8" stroke="#1a1a1a" stroke-width="0.25" font-family="Liberation Sans, sans-serif" fill="#1a1a1a">1.9</text><text x="216.21" y="582.58" text-anchor="middle" font-size="13.8" stroke="#1a1a1a" stroke-width="0.25" font-family="Liberation Sans, sans-serif" fill="#1a1a1a">0.9</text><text x="278.34" y="561.42" text-anchor="middle" font-size="13.8" stroke="#1a1a1a" stroke-width="0.25" font-family="Liberation Sans, sans-serif" fill="#1a1a1a">1.2</text><text x="94.77" y="654.30" text-anchor="middle" font-size="13.6" stroke="#1a1a1a" stroke-width="0.25" font-family="Liberation Sans, sans-serif" fill="#1a1a1a">0–4</text><text x="159.62" y="654.30" text-anchor="middle" font-size="13.6" stroke="#1a1a1a" stroke-width="0.25" font-family="Liberation Sans, sans-serif" fill="#1a1a1a">5–17</text><text x="220.65" y="654.30" text-anchor="middle" font-size="13.6" stroke="#1a1a1a" stroke-width="0.25" font-family="Liberation Sans, sans-serif" fill="#1a1a1a">18–59</text><text x="279.44" y="654.30" text-anchor="middle" font-size="13.6" stroke="#1a1a1a" stroke-width="0.25" font-family="Liberation Sans, sans-serif" fill="#1a1a1a">60–</text><text x="194.92" y="676.40" text-anchor="middle" font-size="13.4" font-weight="bold" stroke="#1a1a1a" stroke-width="0.15" font-family="Liberation Sans, sans-serif" fill="#1a1a1a">Age groups</text><text transform="translate(15.40,493.87) rotate(-90)" text-anchor="middle" font-size="13.85" font-weight="bold" stroke="#1a1a1a" stroke-width="0.15" font-family="Liberation Sans, sans-serif" fill="#1a1a1a">Positivity rate (%)</text><text x="372.75" y="364.60" text-anchor="middle" font-size="17" font-weight="bold" stroke="#111" stroke-width="0.15" font-family="Liberation Sans, sans-serif" fill="#111">c</text><text x="454.25" y="491.02" text-anchor="middle" font-size="13.8" stroke="#1a1a1a" stroke-width="0.25" font-family="Liberation Sans, sans-serif" fill="#1a1a1a">2.5</text><text x="501.25" y="494.02" text-anchor="middle" font-size="13.8" stroke="#1a1a1a" stroke-width="0.25" font-family="Liberation Sans, sans-serif" fill="#1a1a1a">2.4</text><text x="550.37" y="470.52" text-anchor="middle" font-size="13.8" stroke="#1a1a1a" stroke-width="0.25" font-family="Liberation Sans, sans-serif" fill="#1a1a1a">2.9</text><text x="599.39" y="416.12" text-anchor="middle" font-size="13.8" stroke="#1a1a1a" stroke-width="0.25" font-family="Liberation Sans, sans-serif" fill="#1a1a1a">3.9</text><text x="649.85" y="377.65" text-anchor="middle" font-size="13.8" stroke="#1a1a1a" stroke-width="0.25" font-family="Liberation Sans, sans-serif" fill="#1a1a1a">4.6</text><text x="456.77" y="654.30" text-anchor="middle" font-size="13.6" stroke="#1a1a1a" stroke-width="0.25" font-family="Liberation Sans, sans-serif" fill="#1a1a1a">0–</text><text x="504.68" y="654.30" text-anchor="middle" font-size="13.6" stroke="#1a1a1a" stroke-width="0.25" font-family="Liberation Sans, sans-serif" fill="#1a1a1a">1–</text><text x="553.58" y="654.30" text-anchor="middle" font-size="13.6" stroke="#1a1a1a" stroke-width="0.25" font-family="Liberation Sans, sans-serif" fill="#1a1a1a">2–</text><text x="602.62" y="654.30" text-anchor="middle" font-size="13.6" stroke="#1a1a1a" stroke-width="0.25" font-family="Liberation Sans, sans-serif" fill="#1a1a1a">3–</text><text x="652.16" y="654.30" text-anchor="middle" font-size="13.6" stroke="#1a1a1a" stroke-width="0.25" font-family="Liberation Sans, sans-serif" fill="#1a1a1a">4–</text><text x="561.59" y="676.60" text-anchor="middle" font-size="13.4" font-weight="bold" stroke="#1a1a1a" stroke-width="0.15" font-family="Liberation Sans, sans-serif" fill="#1a1a1a">Age groups</text><text transform="translate(379.50,493.52) rotate(-90)" text-anchor="middle" font-size="13.85" font-weight="bold" stroke="#1a1a1a" stroke-width="0.15" font-family="Liberation Sans, sans-serif" fill="#1a1a1a">Positivity rate (%)</text><text x="48.65" y="637.38" text-anchor="end" font-size="13.6" stroke="#1a1a1a" stroke-width="0.25" font-family="Liberation Sans, sans-serif" fill="#1a1a1a">0.0</text><text x="48.65" y="605.27" text-anchor="end" font-size="13.6" stroke="#1a1a1a" stroke-width="0.25" font-family="Liberation Sans, sans-serif" fill="#1a1a1a">0.6</text><text x="48.65" y="572.62" text-anchor="end" font-size="13.6" stroke="#1a1a1a" stroke-width="0.25" font-family="Liberation Sans, sans-serif" fill="#1a1a1a">1.2</text><text x="48.65" y="539.52" text-anchor="end" font-size="13.6" stroke="#1a1a1a" stroke-width="0.25" font-family="Liberation Sans, sans-serif" fill="#1a1a1a">1.8</text><text x="48.65" y="506.92" text-anchor="end" font-size="13.6" stroke="#1a1a1a" stroke-width="0.25" font-family="Liberation Sans, sans-serif" fill="#1a1a1a">2.4</text><text x="48.65" y="474.38" text-anchor="end" font-size="13.6" stroke="#1a1a1a" stroke-width="0.25" font-family="Liberation Sans, sans-serif" fill="#1a1a1a">3.0</text><text x="48.65" y="441.27" text-anchor="end" font-size="13.6" stroke="#1a1a1a" stroke-width="0.25" font-family="Liberation Sans, sans-serif" fill="#1a1a1a">3.6</text><text x="48.65" y="408.62" text-anchor="end" font-size="13.6" stroke="#1a1a1a" stroke-width="0.25" font-family="Liberation Sans, sans-serif" fill="#1a1a1a">4.2</text><text x="48.65" y="376.07" text-anchor="end" font-size="13.6" stroke="#1a1a1a" stroke-width="0.25" font-family="Liberation Sans, sans-serif" fill="#1a1a1a">4.8</text><text x="412.62" y="637.37" text-anchor="end" font-size="13.6" stroke="#1a1a1a" stroke-width="0.25" font-family="Liberation Sans, sans-serif" fill="#1a1a1a">0.0</text><text x="412.62" y="605.27" text-anchor="end" font-size="13.6" stroke="#1a1a1a" stroke-width="0.25" font-family="Liberation Sans, sans-serif" fill="#1a1a1a">0.6</text><text x="412.62" y="572.62" text-anchor="end" font-size="13.6" stroke="#1a1a1a" stroke-width="0.25" font-family="Liberation Sans, sans-serif" fill="#1a1a1a">1.2</text><text x="412.62" y="539.52" text-anchor="end" font-size="13.6" stroke="#1a1a1a" stroke-width="0.25" font-family="Liberation Sans, sans-serif" fill="#1a1a1a">1.8</text><text x="412.62" y="506.92" text-anchor="end" font-size="13.6" stroke="#1a1a1a" stroke-width="0.25" font-family="Liberation Sans, sans-serif" fill="#1a1a1a">2.4</text><text x="412.62" y="474.38" text-anchor="end" font-size="13.6" stroke="#1a1a1a" stroke-width="0.25" font-family="Liberation Sans, sans-serif" fill="#1a1a1a">3.0</text><text x="412.62" y="441.28" text-anchor="end" font-size="13.6" stroke="#1a1a1a" stroke-width="0.25" font-family="Liberation Sans, sans-serif" fill="#1a1a1a">3.6</text><text x="412.62" y="408.62" text-anchor="end" font-size="13.6" stroke="#1a1a1a" stroke-width="0.25" font-family="Liberation Sans, sans-serif" fill="#1a1a1a">4.2</text><text x="412.62" y="376.07" text-anchor="end" font-size="13.6" stroke="#1a1a1a" stroke-width="0.25" font-family="Liberation Sans, sans-serif" fill="#1a1a1a">4.8</text></svg>
</body></html>
